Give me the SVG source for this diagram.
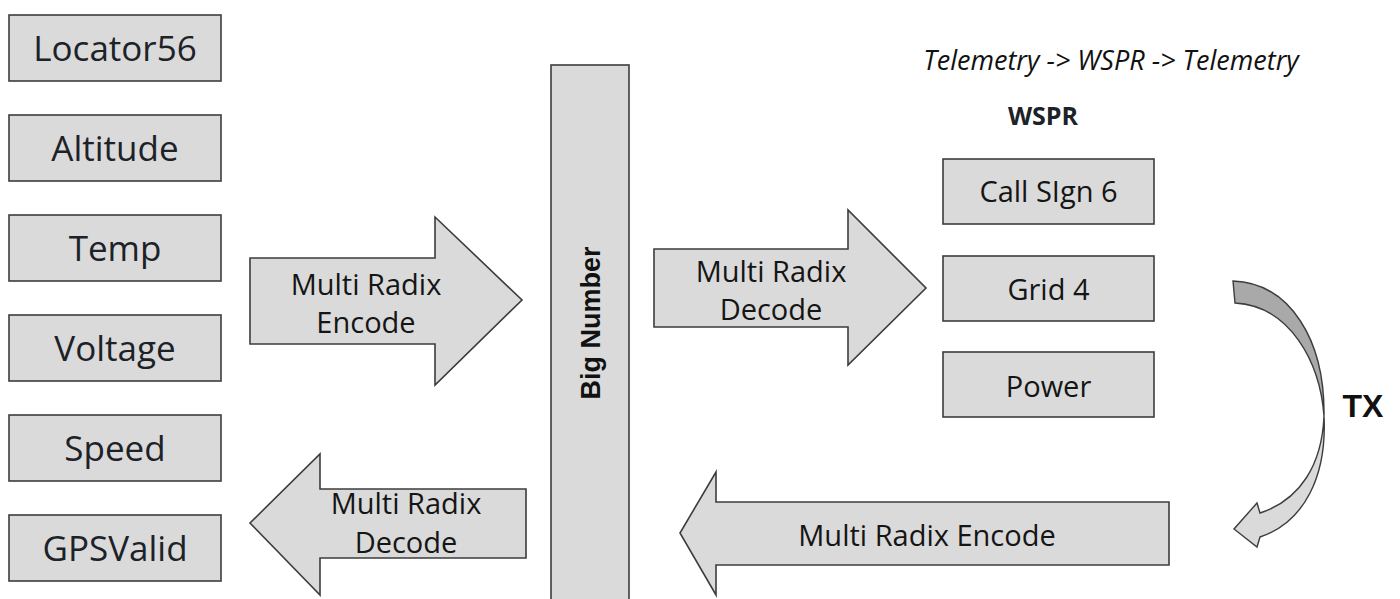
<svg xmlns="http://www.w3.org/2000/svg" width="1400" height="599" viewBox="0 0 1400 599">
<style>
.box{fill:#dadada;stroke:#3c3c3c;stroke-width:1.6}
.arr{fill:#dadada;stroke:#3c3c3c;stroke-width:1.6;stroke-linejoin:miter}
.lbl{font-family:"Open Sans","Liberation Sans",sans-serif;font-size:35px;fill:#1c2228;text-anchor:middle}
.al{font-family:"Open Sans","Liberation Sans",sans-serif;font-size:29px;fill:#151515;text-anchor:middle}
.wl{font-family:"Open Sans","Liberation Sans",sans-serif;font-size:29px;fill:#151515;text-anchor:middle}
.bold{font-family:"Liberation Sans",Arial,sans-serif;font-weight:bold;fill:#111;text-anchor:middle}
</style>
<rect width="1400" height="599" fill="#ffffff"/>

<g id="locator56"><rect class="box" x="9" y="15" width="212" height="66"/><text class="lbl" x="115" y="61">Locator56</text></g>
<g id="altitude"><rect class="box" x="9" y="115" width="212" height="66"/><text class="lbl" x="115" y="161">Altitude</text></g>
<g id="temp"><rect class="box" x="9" y="215" width="212" height="66"/><text class="lbl" x="115" y="261">Temp</text></g>
<g id="voltage"><rect class="box" x="9" y="315" width="212" height="66"/><text class="lbl" x="115" y="361">Voltage</text></g>
<g id="speed"><rect class="box" x="9" y="415" width="212" height="66"/><text class="lbl" x="115" y="461">Speed</text></g>
<g id="gpsvalid"><rect class="box" x="9" y="515" width="212" height="66"/><text class="lbl" x="115" y="561">GPSValid</text></g>

<g id="bignumber"><rect class="box" x="551" y="65" width="78" height="545"/><text class="bold" font-size="27" transform="translate(600,323) rotate(-90)">Big Number</text></g>

<g id="title"><text x="1111" y="70" font-family="'Open Sans','Liberation Sans',sans-serif" font-style="italic" font-size="27" fill="#111" text-anchor="middle">Telemetry -&gt; WSPR -&gt; Telemetry</text></g>
<g id="wspr-title"><text x="1043" y="125" font-family="'Open Sans','Liberation Sans',sans-serif" font-weight="bold" font-size="25" fill="#1c2228" text-anchor="middle">WSPR</text></g>

<g id="callsign6"><rect class="box" x="943" y="159" width="211" height="65"/><text class="wl" x="1048.5" y="202">Call SIgn 6</text></g>
<g id="grid4"><rect class="box" x="943" y="256" width="211" height="65"/><text class="wl" x="1048.5" y="300">Grid 4</text></g>
<g id="power"><rect class="box" x="943" y="352" width="211" height="65"/><text class="wl" x="1048.5" y="397">Power</text></g>

<g id="tx-label"><text class="bold" font-size="32" x="1363" y="417">TX</text></g>

<g id="connectors">
  <g id="encode-arrow">
    <path class="arr" d="M250,258 L435,258 L435,217 L522,300 L435,385 L435,344 L250,344 Z"/>
    <text class="al" x="366" y="295">Multi Radix</text>
    <text class="al" x="366" y="333">Encode</text>
  </g>
  <g id="decode-arrow-top">
    <path class="arr" d="M654,249 L848,249 L848,210 L926,288 L848,365 L848,327 L654,327 Z"/>
    <text class="al" x="771" y="282">Multi Radix</text>
    <text class="al" x="771" y="320">Decode</text>
  </g>
  <g id="decode-arrow-bottom">
    <path class="arr" d="M526,489 L320,489 L320,454 L250,523 L320,595 L320,558 L526,558 Z"/>
    <text class="al" x="406" y="514">Multi Radix</text>
    <text class="al" x="406" y="553">Decode</text>
  </g>
  <g id="encode-arrow-bottom">
    <path class="arr" d="M1169,502 L716,502 L716,472 L680,533 L716,595 L716,565 L1169,565 Z"/>
    <text class="al" x="927" y="546">Multi Radix Encode</text>
  </g>
  <g id="tx-arrow">
    <path d="M1233,281 C1290,283 1325,340 1324,416 C1320,362 1290,306 1235,303 Z" fill="#a9a9a9" stroke="#3c3c3c" stroke-width="1.4"/>
    <path d="M1324,416 C1322,465 1300,500 1260,513 L1257,503 L1234,529 L1257,547 L1260,537 C1305,522 1327,475 1324,416 Z" fill="#dadada" stroke="#3c3c3c" stroke-width="1.4" stroke-linejoin="miter"/>
  </g>
</g>
</svg>
